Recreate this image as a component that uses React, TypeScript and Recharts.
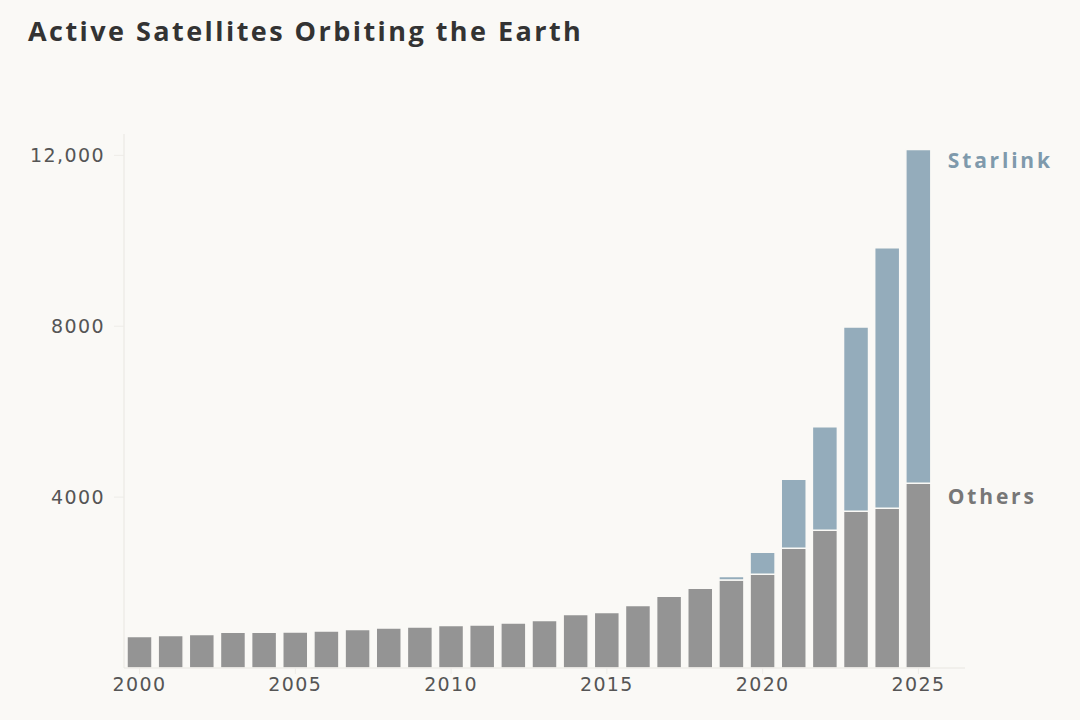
import { BarChart, Bar, XAxis, YAxis, LabelList } from "recharts"

const years = [
  2000, 2001, 2002, 2003, 2004, 2005, 2006, 2007, 2008, 2009, 2010, 2011, 2012,
  2013, 2014, 2015, 2016, 2017, 2018, 2019, 2020, 2021, 2022, 2023, 2024, 2025,
]
const others = [
  737, 760, 783, 838, 838, 845, 868, 900, 938, 962, 995, 1009, 1056,
  1112, 1253, 1300, 1462, 1680, 1865, 2058, 2195, 2801, 3223, 3669, 3740, 4326,
]
const starlink = [
  0, 0, 0, 0, 0, 0, 0, 0, 0, 0, 0, 0, 0,
  0, 0, 0, 0, 0, 0, 85, 515, 1620, 2424, 4315, 6098, 7810,
]
const yTicks = [4000, 8000, 12000]

const data = years.map((year, i) => ({ year, others: others[i], starlink: starlink[i] }))
const lastYear = years[years.length - 1]

const BG = "#faf9f6"
const GREY = "#949494"
const BLUE = "#94acbb"
const tickFont = { fontFamily: "DejaVu Sans", fontSize: 19, fill: "#555", letterSpacing: 1.4 }

// label drawn to the right of the 2025 bar only
const endLabel = (text: string, color: string, dy: number) => (p: any) => {
  if (p.value !== lastYear) return null
  return (
    <text x={p.x + p.width + 17} y={p.y + dy} dominantBaseline="central"
      fontFamily="Open Sans" fontWeight={700} fontSize={21} fill={color} letterSpacing={2.8}>
      {text}
    </text>
  )
}

const App = () => {
  return (
    <div style={{ position: "absolute", left: 0, top: 0, width: 1080, height: 720, background: BG }}>
      <div style={{
        position: "absolute", left: 28, top: 12, fontFamily: "Open Sans", fontWeight: 700,
        fontSize: 27, color: "#333", letterSpacing: 2.45, whiteSpace: "nowrap",
      }}>
        Active Satellites Orbiting the Earth
      </div>
      <BarChart width={1080} height={720} data={data}
        margin={{ top: 134, right: 115, left: 24, bottom: 22 }}>
        <XAxis dataKey="year" interval={4} padding={{ left: 0, right: 31 }}
          axisLine={{ stroke: "#e8e6e1" }} tickLine={{ stroke: "#eeece8" }}
          tickSize={6} tickMargin={4} tick={tickFont} />
        <YAxis width={100} domain={[0, 12500]} ticks={yTicks}
          tickFormatter={(v: number) => (v >= 10000 ? v.toLocaleString("en-US") : String(v))}
          axisLine={{ stroke: "#e8e6e1" }} tickLine={{ stroke: "#eeece8" }}
          tickSize={10} tickMargin={9} tick={tickFont} />
        <Bar dataKey="others" stackId="a" fill={GREY} stroke={BG} strokeWidth={1.5}
          barSize={25} isAnimationActive={false}>
          <LabelList dataKey="year" content={endLabel("Others", "#777", 13)} />
        </Bar>
        <Bar dataKey="starlink" stackId="a" fill={BLUE} stroke={BG} strokeWidth={1.5}
          barSize={25} isAnimationActive={false}>
          <LabelList dataKey="year" content={endLabel("Starlink", "#7f9aac", 10)} />
        </Bar>
      </BarChart>
    </div>
  )
}

export default App
